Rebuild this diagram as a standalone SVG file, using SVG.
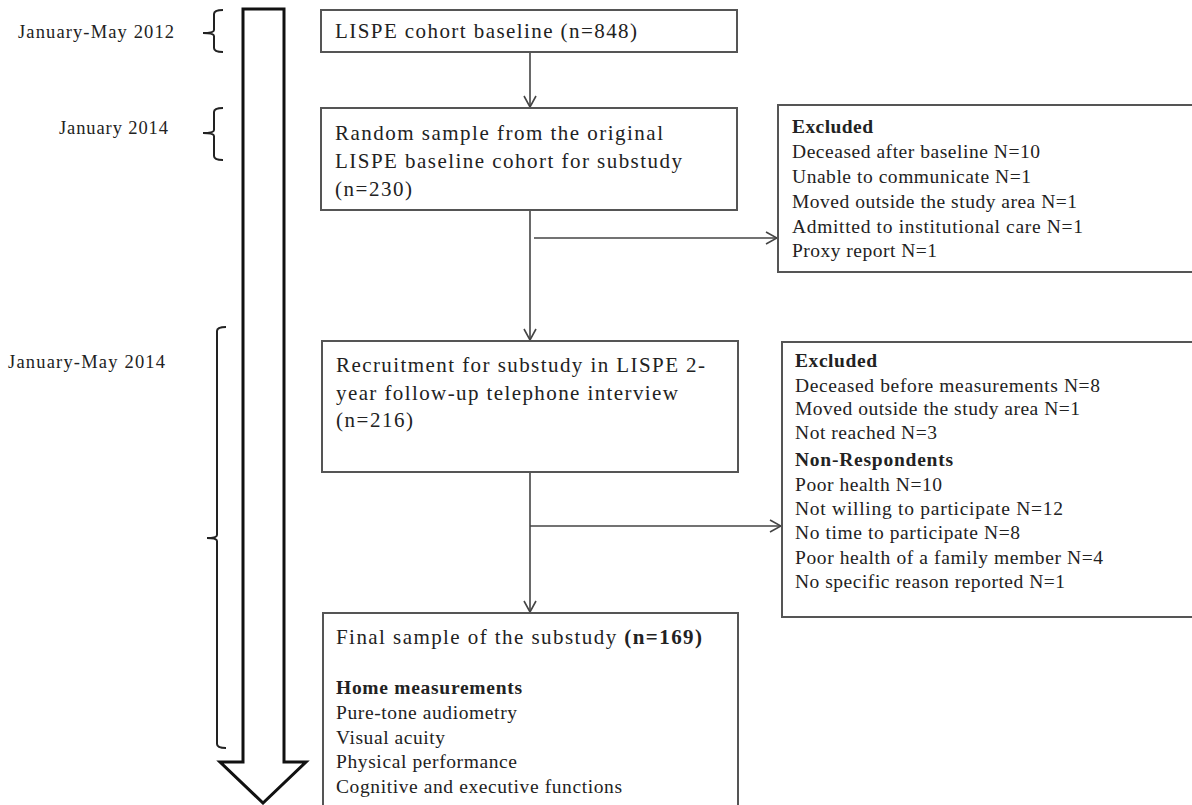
<svg xmlns="http://www.w3.org/2000/svg" width="1192" height="805" viewBox="0 0 1192 805">
<defs>
<style>
.box{fill:#fff;stroke:#555;stroke-width:2}
.t{font-family:"Liberation Serif","Times New Roman",serif;font-size:21px;fill:#222}
.s{font-family:"Liberation Serif","Times New Roman",serif;font-size:19.5px;fill:#222}
.lab{font-family:"Liberation Serif","Times New Roman",serif;font-size:18.5px;fill:#222}
.b{font-weight:bold}
.con{fill:none;stroke:#444;stroke-width:1.6}
.brace{fill:none;stroke:#222;stroke-width:2}
</style>
<marker id="ah" markerUnits="userSpaceOnUse" markerWidth="14" markerHeight="14" viewBox="0 0 14 14" refX="13" refY="7" orient="auto">
<path d="M2,1 L13,7 L2,13" fill="none" stroke="#444" stroke-width="1.6"/>
</marker>
</defs>
<rect width="1192" height="805" fill="#fff"/>

<g id="timeline">
<path d="M243,9 L284,9 L284,762 L306,762 L263,803 L220,762 L243,762 Z" fill="#fff" stroke="#111" stroke-width="3" stroke-linejoin="miter"/>
<path class="brace" d="M223,10 Q214,10 214,14 L214,30 Q214,33 203,33 Q214,33 214,36 L214,48 Q214,52 223,52"/>
<path class="brace" d="M223,108 Q214,108 214,112 L214,130 Q214,133 203,133 Q214,133 214,136 L214,156 Q214,160 223,160"/>
<path class="brace" d="M226,327 Q217,327 217,331 L217,535 Q217,538 207,538 Q217,538 217,541 L217,744 Q217,748 226,748"/>
<text class="lab" x="18" y="38" textLength="156" lengthAdjust="spacing">January-May 2012</text>
<text class="lab" x="59" y="134" textLength="109" lengthAdjust="spacing">January 2014</text>
<text class="lab" x="8" y="368" textLength="157" lengthAdjust="spacing">January-May 2014</text>
</g>

<g id="connectors">
<line class="con" x1="530" y1="52" x2="530" y2="107" marker-end="url(#ah)"/>
<line class="con" x1="530" y1="210" x2="530" y2="340" marker-end="url(#ah)"/>
<line class="con" x1="534" y1="238" x2="777" y2="238" marker-end="url(#ah)"/>
<line class="con" x1="530" y1="472" x2="530" y2="612" marker-end="url(#ah)"/>
<line class="con" x1="530" y1="526" x2="781" y2="526" marker-end="url(#ah)"/>
</g>

<g id="baseline">
<rect class="box" x="321" y="10" width="416" height="42"/>
<text class="t" x="335" y="38" textLength="302" lengthAdjust="spacing">LISPE cohort baseline (n=848)</text>
</g>

<g id="random-sample">
<rect class="box" x="321" y="108" width="416" height="102"/>
<text class="t" x="335" y="140" textLength="328" lengthAdjust="spacing">Random sample from the original</text>
<text class="t" x="335" y="168" textLength="347" lengthAdjust="spacing">LISPE baseline cohort for substudy</text>
<text class="t" x="335" y="196" textLength="77" lengthAdjust="spacing">(n=230)</text>
</g>

<g id="excluded-1">
<rect class="box" x="778" y="105" width="430" height="167"/>
<text class="s b" x="792" y="133" textLength="81" lengthAdjust="spacing">Excluded</text>
<text class="s" x="792" y="158" textLength="248" lengthAdjust="spacing">Deceased after baseline N=10</text>
<text class="s" x="792" y="183" textLength="239" lengthAdjust="spacing">Unable to communicate N=1</text>
<text class="s" x="792" y="208" textLength="285" lengthAdjust="spacing">Moved outside the study area N=1</text>
<text class="s" x="792" y="233" textLength="291" lengthAdjust="spacing">Admitted to  institutional care N=1</text>
<text class="s" x="792" y="257" textLength="145" lengthAdjust="spacing">Proxy report N=1</text>
</g>

<g id="recruitment">
<rect class="box" x="322" y="341" width="416" height="131"/>
<text class="t" x="336" y="372" textLength="369" lengthAdjust="spacing">Recruitment for substudy in LISPE 2-</text>
<text class="t" x="336" y="400" textLength="342" lengthAdjust="spacing">year follow-up telephone interview</text>
<text class="t" x="336" y="427" textLength="77" lengthAdjust="spacing">(n=216)</text>
</g>

<g id="excluded-2">
<rect class="box" x="782" y="342" width="430" height="275"/>
<text class="s b" x="795" y="367" textLength="82" lengthAdjust="spacing">Excluded</text>
<text class="s" x="795" y="392" textLength="305" lengthAdjust="spacing">Deceased before measurements N=8</text>
<text class="s" x="795" y="415" textLength="285" lengthAdjust="spacing">Moved outside the study area N=1</text>
<text class="s" x="795" y="439" textLength="142" lengthAdjust="spacing">Not reached N=3</text>
<text class="s b" x="795" y="466" textLength="158" lengthAdjust="spacing">Non-Respondents</text>
<text class="s" x="795" y="491" textLength="147" lengthAdjust="spacing">Poor health N=10</text>
<text class="s" x="795" y="515" textLength="268" lengthAdjust="spacing">Not willing to participate  N=12</text>
<text class="s" x="795" y="539" textLength="225" lengthAdjust="spacing">No time to participate N=8</text>
<text class="s" x="795" y="564" textLength="308" lengthAdjust="spacing">Poor health of a family member N=4</text>
<text class="s" x="795" y="588" textLength="270" lengthAdjust="spacing">No specific reason reported N=1</text>
</g>

<g id="final-sample">
<rect class="box" x="323" y="613" width="415" height="220"/>
<text class="t" x="336" y="644" textLength="366" lengthAdjust="spacing">Final sample of the substudy <tspan class="b">(n=169)</tspan></text>
<text class="s b" x="336" y="694" textLength="186" lengthAdjust="spacing">Home measurements</text>
<text class="s" x="336" y="719" textLength="181" lengthAdjust="spacing">Pure-tone audiometry</text>
<text class="s" x="336" y="744" textLength="109" lengthAdjust="spacing">Visual acuity</text>
<text class="s" x="336" y="768" textLength="181" lengthAdjust="spacing">Physical performance</text>
<text class="s" x="336" y="793" textLength="286" lengthAdjust="spacing">Cognitive and executive functions</text>
</g>
</svg>
